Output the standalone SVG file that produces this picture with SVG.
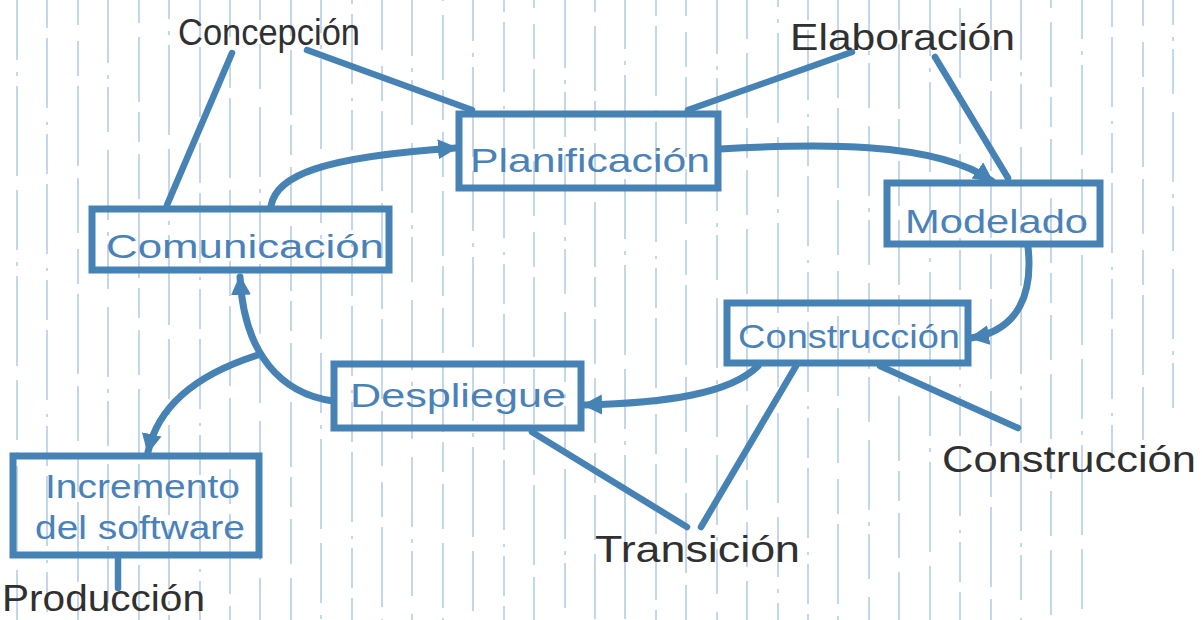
<svg xmlns="http://www.w3.org/2000/svg" width="1202" height="620" viewBox="0 0 1202 620">
  <defs>
    <style>
      .grid line { stroke: #5b8fc9; stroke-width: 1.3; opacity: 0.55; }
      .box { fill: none; stroke: #4682b4; stroke-width: 7; stroke-linejoin: miter; }
      .inner { font-family: "Liberation Sans", "DejaVu Sans", sans-serif; font-size: 34px; fill: #4a82b8; }
      .outer { font-family: "Liberation Sans", "DejaVu Sans", sans-serif; font-size: 36px; fill: #303030; }
      .flow { fill: none; stroke: #4682b4; stroke-width: 7; stroke-linecap: round; }
      .link { fill: none; stroke: #4682b4; stroke-width: 6.5; stroke-linecap: round; }
    </style>
    <marker id="head" markerUnits="userSpaceOnUse" markerWidth="22" markerHeight="22" refX="18" refY="10" orient="auto">
      <path d="M0,0 L20,10 L0,20 z" fill="#4682b4"/>
    </marker>
  </defs>

  <rect width="1202" height="620" fill="#ffffff"/>

  <!-- ruled paper: broken vertical lines -->
  <g class="grid">
    <line x1="17" y1="0" x2="17" y2="620" stroke-dasharray="60 12 4 10 90 14"/>
    <line x1="47" y1="0" x2="47" y2="620" stroke-dasharray="40 10 70 14 3 9" stroke-dashoffset="12"/>
    <line x1="78" y1="0" x2="78" y2="620" stroke-dasharray="55 16 35 10 80 12" stroke-dashoffset="30"/>
    <line x1="108" y1="0" x2="108" y2="620" stroke-dasharray="70 12 4 8 45 18" stroke-dashoffset="7"/>
    <line x1="139" y1="0" x2="139" y2="620" stroke-dasharray="45 14 65 10 30 12" stroke-dashoffset="22"/>
    <line x1="169" y1="0" x2="169" y2="620" stroke-dasharray="60 12 4 10 90 14" stroke-dashoffset="41"/>
    <line x1="200" y1="0" x2="200" y2="620" stroke-dasharray="40 10 70 14 3 9" stroke-dashoffset="3"/>
    <line x1="230" y1="0" x2="230" y2="620" stroke-dasharray="55 16 35 10 80 12" stroke-dashoffset="18"/>
    <line x1="260" y1="0" x2="260" y2="620" stroke-dasharray="70 12 4 8 45 18" stroke-dashoffset="50"/>
    <line x1="291" y1="0" x2="291" y2="620" stroke-dasharray="45 14 65 10 30 12" stroke-dashoffset="9"/>
    <line x1="321" y1="0" x2="321" y2="620" stroke-dasharray="60 12 4 10 90 14" stroke-dashoffset="27"/>
    <line x1="352" y1="0" x2="352" y2="620" stroke-dasharray="40 10 70 14 3 9" stroke-dashoffset="36"/>
    <line x1="382" y1="0" x2="382" y2="620" stroke-dasharray="55 16 35 10 80 12" stroke-dashoffset="5"/>
    <line x1="412" y1="0" x2="412" y2="620" stroke-dasharray="70 12 4 8 45 18" stroke-dashoffset="14"/>
    <line x1="443" y1="0" x2="443" y2="620" stroke-dasharray="45 14 65 10 30 12" stroke-dashoffset="44"/>
    <line x1="473" y1="0" x2="473" y2="620" stroke-dasharray="60 12 4 10 90 14" stroke-dashoffset="19"/>
    <line x1="504" y1="0" x2="504" y2="620" stroke-dasharray="40 10 70 14 3 9" stroke-dashoffset="28"/>
    <line x1="534" y1="0" x2="534" y2="620" stroke-dasharray="55 16 35 10 80 12" stroke-dashoffset="47"/>
    <line x1="565" y1="0" x2="565" y2="620" stroke-dasharray="70 12 4 8 45 18" stroke-dashoffset="2"/>
    <line x1="595" y1="0" x2="595" y2="620" stroke-dasharray="45 14 65 10 30 12" stroke-dashoffset="33"/>
    <line x1="625" y1="0" x2="625" y2="620" stroke-dasharray="60 12 4 10 90 14" stroke-dashoffset="11"/>
    <line x1="656" y1="0" x2="656" y2="620" stroke-dasharray="40 10 70 14 3 9" stroke-dashoffset="24"/>
    <line x1="686" y1="0" x2="686" y2="620" stroke-dasharray="55 16 35 10 80 12" stroke-dashoffset="39"/>
    <line x1="717" y1="0" x2="717" y2="620" stroke-dasharray="70 12 4 8 45 18" stroke-dashoffset="16"/>
    <line x1="747" y1="0" x2="747" y2="620" stroke-dasharray="45 14 65 10 30 12" stroke-dashoffset="6"/>
    <line x1="778" y1="0" x2="778" y2="620" stroke-dasharray="60 12 4 10 90 14" stroke-dashoffset="53"/>
    <line x1="808" y1="0" x2="808" y2="620" stroke-dasharray="40 10 70 14 3 9" stroke-dashoffset="20"/>
    <line x1="838" y1="0" x2="838" y2="620" stroke-dasharray="55 16 35 10 80 12" stroke-dashoffset="8"/>
    <line x1="869" y1="0" x2="869" y2="620" stroke-dasharray="70 12 4 8 45 18" stroke-dashoffset="31"/>
    <line x1="899" y1="0" x2="899" y2="620" stroke-dasharray="45 14 65 10 30 12" stroke-dashoffset="15"/>
    <line x1="930" y1="0" x2="930" y2="620" stroke-dasharray="60 12 4 10 90 14" stroke-dashoffset="4"/>
    <line x1="960" y1="0" x2="960" y2="620" stroke-dasharray="40 10 70 14 3 9" stroke-dashoffset="42"/>
    <line x1="991" y1="0" x2="991" y2="620" stroke-dasharray="55 16 35 10 80 12" stroke-dashoffset="25"/>
    <line x1="1021" y1="0" x2="1021" y2="620" stroke-dasharray="70 12 4 8 45 18" stroke-dashoffset="10"/>
    <line x1="1051" y1="0" x2="1051" y2="620" stroke-dasharray="45 14 65 10 30 12" stroke-dashoffset="37"/>
    <line x1="1082" y1="0" x2="1082" y2="620" stroke-dasharray="60 12 4 10 90 14" stroke-dashoffset="21"/>
    <line x1="1112" y1="0" x2="1112" y2="460" stroke-dasharray="40 10 70 14 3 9" stroke-dashoffset="13"/>
    <line x1="1143" y1="0" x2="1143" y2="440" stroke-dasharray="55 16 35 10 80 12" stroke-dashoffset="29"/>
    <line x1="1173" y1="0" x2="1173" y2="420" stroke-dasharray="70 12 4 8 45 18" stroke-dashoffset="45"/>
  </g>

  <!-- phase lines and process arrows -->
  <g id="connectors">
    <line class="link" x1="232" y1="53" x2="167" y2="205"/>
    <line class="link" x1="307" y1="50" x2="472" y2="110"/>
    <line class="link" x1="852" y1="52" x2="688" y2="110"/>
    <line class="link" x1="935" y1="57" x2="1008" y2="178"/>
    <line class="link" x1="880" y1="366" x2="1018" y2="428"/>
    <line class="link" x1="796" y1="366" x2="701" y2="527"/>
    <line class="link" x1="532" y1="432" x2="687" y2="527"/>
    <line class="link" x1="118" y1="558" x2="118" y2="588"/>

    <path class="flow" d="M271 206 C276 176 320 157 456 148" marker-end="url(#head)"/>
    <path class="flow" d="M720 149 C810 144 935 140 992 181" marker-end="url(#head)"/>
    <path class="flow" d="M1028 247 C1033 292 1020 330 971 338" marker-end="url(#head)"/>
    <path class="flow" d="M758 366 C730 394 665 403 584 405" marker-end="url(#head)"/>
    <path class="flow" d="M333 401 C282 394 244 355 240 277" marker-end="url(#head)"/>
    <path class="flow" d="M258 355 C198 374 158 405 148 452" marker-end="url(#head)"/>
  </g>

  <g id="planificacion">
    <rect class="box" x="459" y="114" width="259" height="74"/>
    <text class="inner" x="470" y="172" textLength="240" lengthAdjust="spacingAndGlyphs">Planificación</text>
  </g>

  <g id="modelado">
    <rect class="box" x="887" y="183" width="213" height="61"/>
    <text class="inner" x="905" y="233" textLength="183" lengthAdjust="spacingAndGlyphs">Modelado</text>
  </g>

  <g id="comunicacion">
    <rect class="box" x="92" y="209" width="297" height="61"/>
    <text class="inner" x="106" y="258" textLength="278" lengthAdjust="spacingAndGlyphs">Comunicación</text>
  </g>

  <g id="construccion">
    <rect class="box" x="727" y="303" width="241" height="60"/>
    <text class="inner" x="738" y="348" textLength="222" lengthAdjust="spacingAndGlyphs">Construcción</text>
  </g>

  <g id="despliegue">
    <rect class="box" x="334" y="364" width="247" height="64"/>
    <text class="inner" x="350" y="407" textLength="216" lengthAdjust="spacingAndGlyphs">Despliegue</text>
  </g>

  <g id="incremento">
    <rect class="box" x="13" y="456" width="246" height="99"/>
    <text class="inner" x="45" y="498" textLength="195" lengthAdjust="spacingAndGlyphs">Incremento</text>
    <text class="inner" x="35" y="539" textLength="210" lengthAdjust="spacingAndGlyphs">del software</text>
  </g>

  <g id="labels">
    <text class="outer" x="178" y="45" textLength="182" lengthAdjust="spacingAndGlyphs">Concepción</text>
    <text class="outer" x="790" y="50" textLength="225" lengthAdjust="spacingAndGlyphs">Elaboración</text>
    <text class="outer" x="942" y="472" textLength="254" lengthAdjust="spacingAndGlyphs">Construcción</text>
    <text class="outer" x="595" y="562" textLength="205" lengthAdjust="spacingAndGlyphs">Transición</text>
    <text class="outer" x="2" y="611" font-size="33" textLength="203" lengthAdjust="spacingAndGlyphs">Producción</text>
  </g>
</svg>
